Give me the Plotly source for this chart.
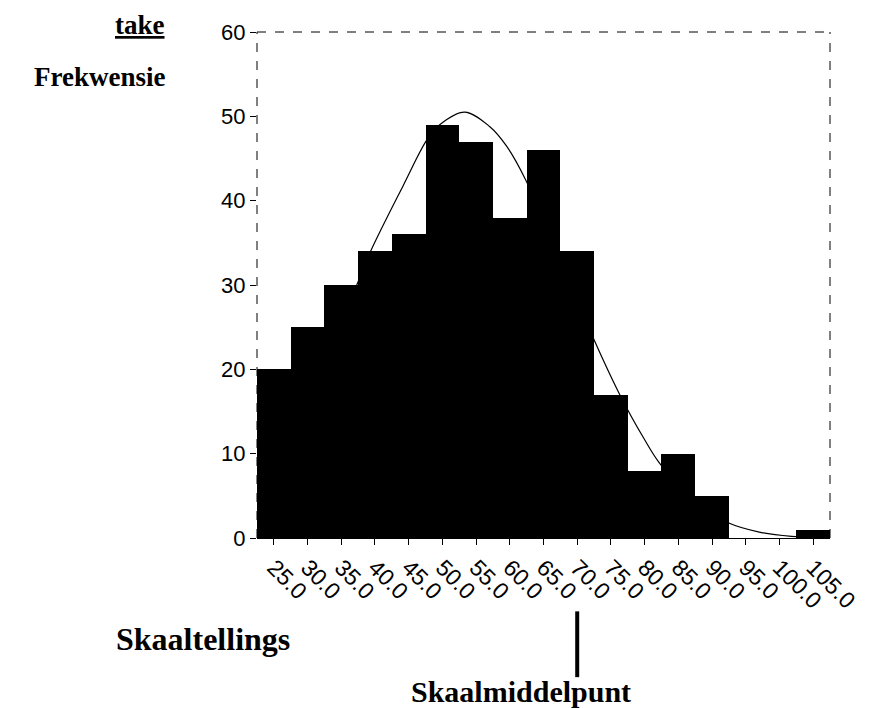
import plotly.graph_objects as go

# histogram bins (midpoints) and counts
bin_mid = [25, 30, 35, 40, 45, 50, 55, 60, 65, 70, 75, 80, 85, 90, 95, 100, 105]
counts = [20, 25, 30, 34, 36, 49, 47, 38, 46, 34, 17, 8, 10, 5, 0, 0, 1]

# fitted normal curve
curve_x = [22.5, 30, 37.3, 39.3, 44.2, 47.7, 49.6, 53.3, 57.0, 59.5, 62.4, 67.5,
           72.5, 76.5, 79.9, 82.1, 87.0, 92.4, 97.0, 101.8, 107.5]
curve_y = [7, 17, 30.0, 33.9, 41.8, 47.2, 49.0, 50.5, 48.8, 46.5, 42.4, 33.0,
           23.5, 16.7, 11.8, 9.0, 4.5, 1.8, 0.7, 0.2, 0.05]

tick_vals = bin_mid
tick_text = [f"{v:.1f}" for v in bin_mid]
midpoint = 70  # skaalmiddelpunt

serif = "Liberation Serif"
sans = "Liberation Sans"

fig = go.Figure()

# curve first so the bars cover it
fig.add_trace(go.Scatter(x=curve_x, y=curve_y, mode="lines", line_shape="spline",
                         line=dict(color="black", width=1.2), hoverinfo="skip"))
fig.add_trace(go.Bar(x=bin_mid, y=counts, width=5, marker=dict(color="black", line_width=0)))

# page body has an 8px margin, so the figure is shifted by that
fig.update_layout(
    width=865, height=700, autosize=False,
    margin=dict(l=249, r=41, t=20, b=170),
    plot_bgcolor="white", paper_bgcolor="white",
    showlegend=False,
    bargap=0,
    font=dict(family=sans, color="black", size=21),
)

fig.update_xaxes(range=[22.5, 107.5], tickmode="array", tickvals=tick_vals, ticktext=tick_text,
                 tickangle=45, ticks="outside", ticklen=6, tickcolor="black",
                 showline=True, linecolor="black", linewidth=1, showgrid=False, zeroline=False,
                 tickfont=dict(family=sans, size=23))
fig.update_yaxes(range=[0, 60], tickvals=[0, 10, 20, 30, 40, 50, 60], ticks="outside",
                 ticklen=6, tickcolor="black", showline=False, showgrid=False, zeroline=False,
                 tickfont=dict(family=sans, size=22))

# dashed frame (left, top, right)
frame = dict(type="line", xref="paper", yref="paper", line=dict(color="black", width=1, dash="dash"))
fig.add_shape(**frame, x0=0, x1=0, y0=0, y1=1)
fig.add_shape(**frame, x0=0, x1=1, y0=1, y1=1)
fig.add_shape(**frame, x0=1, x1=1, y0=0, y1=1)

# pointer to the scale midpoint
fig.add_shape(type="line", xref="x", yref="paper", x0=midpoint, x1=midpoint, y0=-0.145, y1=-0.275,
              line=dict(color="black", width=4))

fig.add_annotation(text="<u>take</u>", xref="paper", yref="paper", x=-0.1565, y=1.014,
                   xanchor="right", yanchor="middle", showarrow=False,
                   font=dict(family=serif, size=27, weight="bold"))
fig.add_annotation(text="Frekwensie", xref="paper", yref="paper", x=-0.1565, y=0.912,
                   xanchor="right", yanchor="middle", showarrow=False,
                   font=dict(family=serif, size=27, weight="bold"))
fig.add_annotation(text="Skaaltellings", xref="paper", yref="paper", x=-0.2504, y=-0.2,
                   xanchor="left", yanchor="middle", showarrow=False,
                   font=dict(family=serif, size=32, weight="bold"))
fig.add_annotation(text="Skaalmiddelpunt", xref="paper", yref="paper", x=0.266, y=-0.303,
                   xanchor="left", yanchor="middle", showarrow=False,
                   font=dict(family=serif, size=30, weight="bold"))

fig.write_html("out.html")
